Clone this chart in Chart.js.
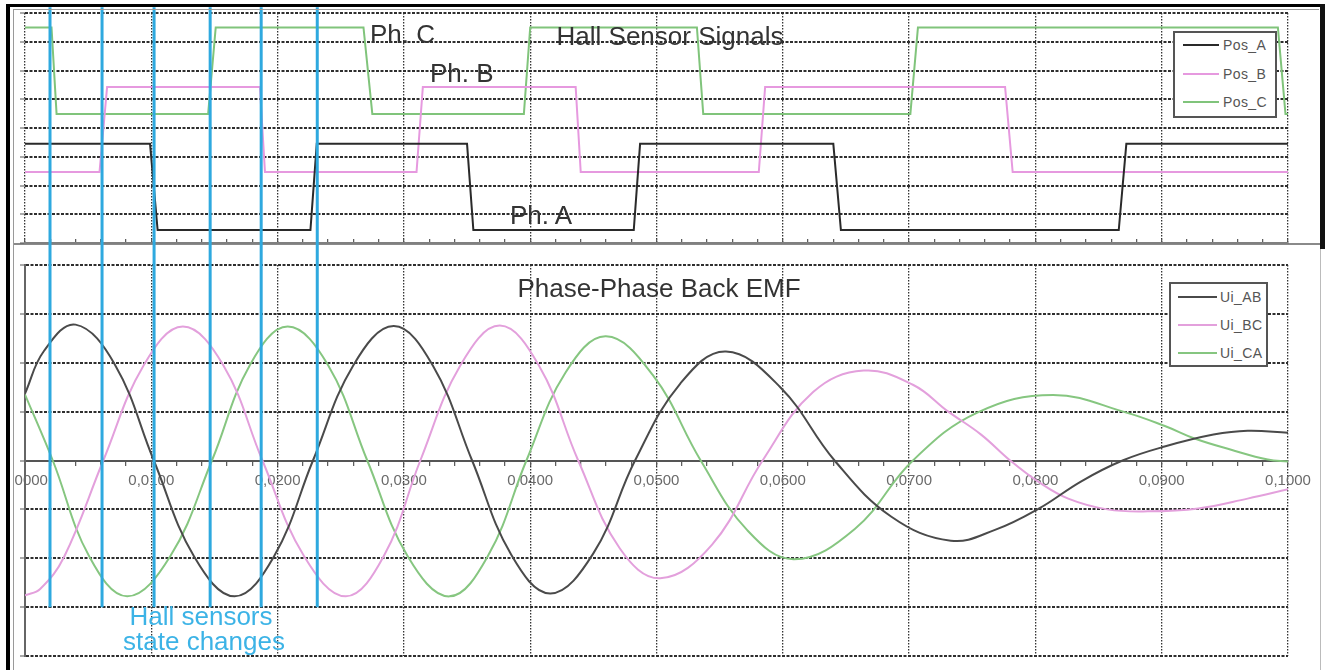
<!DOCTYPE html>
<html>
<head>
<meta charset="utf-8">
<script src="https://cdn.jsdelivr.net/npm/chart.js@4.4.0/dist/chart.umd.min.js"></script>
<style>
html,body{margin:0;padding:0;background:#fff;}
body{width:1325px;height:670px;position:relative;overflow:hidden;font-family:"Liberation Sans",Arial,sans-serif;}
.wrap{position:absolute;z-index:1;}
#topWrap{left:0;top:0;width:1325px;height:250px;}
#botWrap{left:0;top:250px;width:1325px;height:420px;}
.deco{position:absolute;z-index:0;}
.over{position:absolute;z-index:3;}
.lbl{position:absolute;z-index:4;font-size:26px;line-height:26px;color:#333;white-space:nowrap;}
.blue{color:#3cb3e6;}
.legend{position:absolute;z-index:4;border:2px solid #555;background:#fff;box-sizing:border-box;}
.legline{position:absolute;height:2px;}
.legtxt{position:absolute;font-size:14px;line-height:16px;color:#555;letter-spacing:0.4px;white-space:nowrap;}
</style>
</head>
<body>
<!-- separator between the two panels -->
<div class="deco" style="left:13px;top:243px;width:1310px;height:2px;background:#8a8a8a;"></div>

<div class="wrap" id="topWrap"><canvas id="hallChart"></canvas></div>
<div class="wrap" id="botWrap"><canvas id="emfChart"></canvas></div>

<!-- frame -->
<div class="over" style="left:0;top:0;width:13px;height:670px;background:#fff;"></div>
<div class="over" style="left:6px;top:4px;width:1319px;height:3px;background:#000;"></div>
<div class="over" style="left:6px;top:4px;width:4px;height:666px;background:#000;"></div>
<div class="over" style="left:1320px;top:4px;width:5px;height:245px;background:#111;"></div>
<div class="over" style="left:1320px;top:249px;width:1px;height:421px;background:#bbb;"></div>
<div class="over" style="left:13px;top:9px;width:1px;height:661px;background:#9a9a9a;"></div>
<div class="over" style="left:13px;top:9px;width:1306px;height:1px;background:#9a9a9a;"></div>

<!-- annotations -->
<div class="lbl" style="left:370px;top:21px;">Ph. C</div>
<div class="lbl" style="left:430px;top:60px;">Ph. B</div>
<div class="lbl" style="left:510px;top:202px;">Ph. A</div>
<div class="lbl" style="left:670px;top:23px;transform:translateX(-50%);">Hall Sensor Signals</div>
<div class="lbl" style="left:659px;top:275px;transform:translateX(-50%);">Phase-Phase Back EMF</div>
<div class="lbl blue" style="left:201px;top:603px;transform:translateX(-50%);">Hall sensors</div>
<div class="lbl blue" style="left:204px;top:628px;transform:translateX(-50%);">state changes</div>

<script>
// ---------- data ----------
const xTickLabels = ['0,0000','0,0100','0,0200','0,0300','0,0400','0,0500','0,0600','0,0700','0,0800','0,0900','0,1000'];

const hallLabels = ['Pos_A', 'Pos_B', 'Pos_C'];
const emfLabels  = ['Ui_AB', 'Ui_BC', 'Ui_CA'];

// Hall sensor signals (time [s], level)
const hallTimeA = [0, 0.0099, 0.0105, 0.0226, 0.0231, 0.0350, 0.0355, 0.0482, 0.0487, 0.0640, 0.0646, 0.0866, 0.0872, 0.1000];
const hallPosA  = [3.45, 3.45, 0.45, 0.45, 3.45, 3.45, 0.45, 0.45, 3.45, 3.45, 0.45, 0.45, 3.45, 3.45];

const hallTimeB = [0, 0.0059, 0.0065, 0.0186, 0.0190, 0.0310, 0.0315, 0.0436, 0.0440, 0.0581, 0.0586, 0.0776, 0.0782, 0.1000];
const hallPosB  = [2.47, 2.47, 5.43, 5.43, 2.47, 2.47, 5.43, 5.43, 2.47, 2.47, 5.43, 5.43, 2.47, 2.47];

const hallTimeC = [0, 0.0021, 0.0025, 0.0145, 0.0151, 0.0268, 0.0275, 0.0395, 0.0400, 0.0532, 0.0537, 0.0701, 0.0707, 0.0992, 0.0998, 0.1000];
const hallPosC  = [7.5, 7.5, 4.49, 4.49, 7.5, 7.5, 4.49, 4.49, 7.5, 7.5, 4.49, 4.49, 7.5, 7.5, 4.49, 4.49];

// Phase-phase back EMF (time [s], value)
const emfTimeAB = [0.0000, 0.0015, 0.0040, 0.0071, 0.0102, 0.0134, 0.0166, 0.0197, 0.0228, 0.0260, 0.0292, 0.0323, 0.0354, 0.0385, 0.0416, 0.0450, 0.0483, 0.0519, 0.0555, 0.0598, 0.0641, 0.0686, 0.0733, 0.0768, 0.0803, 0.0836, 0.0869, 0.0903, 0.0941, 0.0968, 0.1000];
const emfAB     = [1.37, 2.24, 2.78, 1.97, 0.00, -1.97, -2.78, -1.97, 0.00, 1.95, 2.75, 1.94, 0.00, -1.93, -2.72, -1.90, 0.00, 1.58, 2.23, 1.50, 0.00, -1.15, -1.64, -1.42, -0.98, -0.43, 0.00, 0.29, 0.53, 0.61, 0.57];

const emfTimeBC = [0.0000, 0.0012, 0.0031, 0.0062, 0.0094, 0.0125, 0.0157, 0.0188, 0.0221, 0.0254, 0.0284, 0.0313, 0.0345, 0.0376, 0.0407, 0.0438, 0.0471, 0.0503, 0.0544, 0.0584, 0.0624, 0.0664, 0.0703, 0.0731, 0.0757, 0.0780, 0.0802, 0.0826, 0.0857, 0.0889, 0.0929, 0.0968, 0.1000];
const emfBC     = [-2.76, -2.63, -1.97, 0.00, 1.95, 2.74, 1.95, 0.00, -1.96, -2.78, -1.96, 0.00, 1.96, 2.76, 1.94, 0.00, -1.80, -2.41, -1.72, 0.00, 1.40, 1.84, 1.55, 1.00, 0.53, 0.00, -0.43, -0.78, -1.00, -1.04, -0.98, -0.78, -0.59];

const emfTimeCA = [0.0000, 0.0022, 0.0051, 0.0081, 0.0115, 0.0148, 0.0178, 0.0208, 0.0240, 0.0271, 0.0303, 0.0336, 0.0367, 0.0397, 0.0428, 0.0460, 0.0497, 0.0535, 0.0572, 0.0609, 0.0657, 0.0703, 0.0754, 0.0814, 0.0872, 0.0903, 0.0926, 0.0955, 0.0984, 0.1000];
const emfCA     = [1.35, 0.00, -1.97, -2.78, -1.96, 0.00, 1.95, 2.74, 1.95, 0.00, -1.96, -2.78, -1.93, 0.00, 1.80, 2.54, 1.75, 0.00, -1.43, -2.02, -1.40, 0.00, 0.98, 1.34, 0.98, 0.70, 0.45, 0.22, 0.02, -0.02];

// Hall sensor state change instants (time [s])
const stateChanges = [0.00198, 0.0061, 0.01022, 0.01466, 0.0187, 0.02314];

// ---------- helpers ----------
const toPts = (ts, vs) => ts.map((t, i) => ({x: t, y: vs[i]}));
const BLUE = '#2ea9df';
const markerSets = (yFrom, yTo) => stateChanges.map(t => ({
  label: '', isMarker: true,
  data: [{x: t, y: yFrom}, {x: t, y: yTo}],
  borderColor: BLUE, borderWidth: 3, pointRadius: 0, tension: 0, clip: false, order: 0
}));
const fixAxis = s => {
  s.paddingLeft = 0; s.paddingRight = 0; s.paddingTop = 0; s.paddingBottom = 0;
  if (s.isHorizontal()) s.height = 0; else s.width = 0;
};
const majorColor = c => (c.index % 5 === 0 ? '#333' : 'rgba(0,0,0,0)');

Chart.defaults.font.family = '"Liberation Sans", Arial, sans-serif';
Chart.defaults.animation = false;

const hallColors = ['#2a2a2a', '#e699df', '#80c47b'];
const emfColors  = ['#4a4a4a', '#e3a0dc', '#86c680'];

const common = (padding) => ({
  type: 'line',
  options: {
    responsive: true, maintainAspectRatio: false, animation: false, events: [],
    layout: {padding},
    plugins: {legend: {display: false}, tooltip: {enabled: false}},
    elements: {point: {radius: 0}, line: {fill: false}}
  }
});

// ---------- Hall chart ----------
const hallCfg = common({left: 25, top: 13, right: 37, bottom: 7});
hallCfg.data = {
  datasets: [
    ...markerSets(-0.3, 8.2),
    {label: hallLabels[0], data: toPts(hallTimeA, hallPosA), borderColor: hallColors[0], borderWidth: 2, tension: 0, order: 1},
    {label: hallLabels[1], data: toPts(hallTimeB, hallPosB), borderColor: hallColors[1], borderWidth: 2, tension: 0, order: 1},
    {label: hallLabels[2], data: toPts(hallTimeC, hallPosC), borderColor: hallColors[2], borderWidth: 2, tension: 0, order: 1}
  ]
};
hallCfg.options.scales = {
  x: {
    type: 'linear', min: 0, max: 0.1, position: 'bottom', afterFit: fixAxis,
    ticks: {stepSize: 0.002, display: false, autoSkip: false},
    grid: {color: majorColor, lineWidth: 1.3, tickLength: -4, tickColor: '#555', tickWidth: 1.2},
    border: {display: true, color: '#808080', width: 2, dash: [1.5, 1.5]}
  },
  y: {
    type: 'linear', min: 0, max: 8, afterFit: fixAxis,
    ticks: {stepSize: 1, display: false},
    grid: {color: '#2e2e2e', lineWidth: 2, tickLength: 5, tickColor: '#555', tickWidth: 1},
    border: {display: false, dash: [3, 1.5]}
  }
};
const hallChart = new Chart(document.getElementById('hallChart'), hallCfg);

// ---------- EMF chart ----------
const emfCfg = common({left: 25, top: 15, right: 37, bottom: 14});
emfCfg.data = {
  datasets: [
    ...markerSets(-3, 4.4),
    {label: emfLabels[0], data: toPts(emfTimeAB, emfAB), borderColor: emfColors[0], borderWidth: 2, tension: 0.4, order: 1},
    {label: emfLabels[1], data: toPts(emfTimeBC, emfBC), borderColor: emfColors[1], borderWidth: 2, tension: 0.4, order: 1},
    {label: emfLabels[2], data: toPts(emfTimeCA, emfCA), borderColor: emfColors[2], borderWidth: 2, tension: 0.4, order: 1}
  ]
};
emfCfg.options.scales = {
  x: {
    type: 'linear', min: 0, max: 0.1, position: {y: 0}, afterFit: fixAxis,
    ticks: {
      stepSize: 0.002, autoSkip: false, maxRotation: 0, minRotation: 0, padding: 7,
      color: '#6a6a6a', font: {size: 15},
      callback: (v, i) => (i % 5 === 0 ? xTickLabels[i / 5] : '')
    },
    grid: {color: majorColor, lineWidth: 1.3, tickLength: 4, tickColor: '#555', tickWidth: 1.2},
    border: {display: true, color: '#555', width: 2, dash: [1.5, 1.5]}
  },
  y: {
    type: 'linear', min: -4, max: 4, afterFit: fixAxis,
    ticks: {stepSize: 1, display: false},
    grid: {color: '#2e2e2e', lineWidth: 2, tickLength: 5, tickColor: '#555', tickWidth: 1},
    border: {display: true, color: '#666', width: 2, dash: [3, 1.5]}
  }
};
const emfChart = new Chart(document.getElementById('emfChart'), emfCfg);

// ---------- HTML legends built from the datasets ----------
function buildLegend(chart, box) {
  const el = document.createElement('div');
  el.className = 'legend';
  Object.assign(el.style, {left: box.left + 'px', top: box.top + 'px', width: box.width + 'px', height: box.height + 'px'});
  chart.data.datasets.filter(d => !d.isMarker).forEach((d, i) => {
    const cy = box.firstRow + i * box.rowGap;
    const ln = document.createElement('div');
    ln.className = 'legline';
    Object.assign(ln.style, {left: box.lineLeft + 'px', width: box.lineWidth + 'px', top: (cy - 1) + 'px', background: d.borderColor});
    const tx = document.createElement('div');
    tx.className = 'legtxt';
    tx.textContent = d.label;
    Object.assign(tx.style, {left: box.textLeft + 'px', top: (cy - 8) + 'px'});
    el.appendChild(ln); el.appendChild(tx);
  });
  document.body.appendChild(el);
}
buildLegend(hallChart, {left: 1173, top: 31, width: 104, height: 87, firstRow: 12, rowGap: 28.5, lineLeft: 8, lineWidth: 36, textLeft: 48});
buildLegend(emfChart,  {left: 1169, top: 282, width: 99, height: 85, firstRow: 13, rowGap: 28, lineLeft: 7, lineWidth: 39, textLeft: 49});
</script>
</body>
</html>
